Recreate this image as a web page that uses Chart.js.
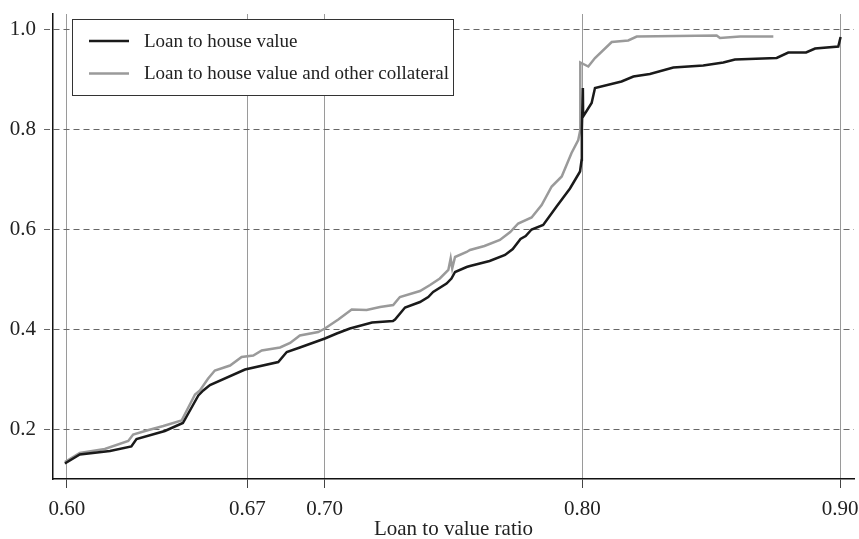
<!DOCTYPE html>
<html lang="en">
<head>
  <meta charset="UTF-8" />
  <title>Loan to value ratio</title>
  <style>
    * { margin: 0; padding: 0; box-sizing: border-box; }
    body { background: #ffffff; }
    #ltvChart { display: block; }
  </style>
</head>
<body>
  <canvas id="ltvChart" width="859" height="539"></canvas>
  <script src="https://cdn.jsdelivr.net/npm/chart.js"></script>
  <script>
    // Loan to house value (black)
    const houseX = [0.5992, 0.6050, 0.6167, 0.6250, 0.6270, 0.6380, 0.6450, 0.6510, 0.6529, 0.6555,
                    0.6691, 0.6820, 0.6853, 0.6904, 0.7001, 0.7047, 0.7098, 0.7184, 0.7265, 0.7273,
                    0.7312, 0.7370, 0.7402, 0.7421, 0.7473, 0.7492, 0.7506, 0.7551, 0.7564, 0.7640,
                    0.7700, 0.7730, 0.7760, 0.7780, 0.7803, 0.7848, 0.7900, 0.7952, 0.7991, 0.7997,
                    0.7998, 0.8002, 0.8003, 0.8036, 0.8049, 0.8152, 0.8198, 0.8262, 0.8353, 0.8469,
                    0.8547, 0.8592, 0.8754, 0.8799, 0.8868, 0.8903, 0.8993, 0.9002];
    const houseY = [0.131, 0.149, 0.156, 0.165, 0.180, 0.196, 0.212, 0.267, 0.277, 0.288,
                    0.319, 0.334, 0.354, 0.363, 0.381, 0.391, 0.401, 0.413, 0.416, 0.419,
                    0.443, 0.454, 0.464, 0.474, 0.491, 0.501, 0.514, 0.524, 0.526, 0.536,
                    0.548, 0.560, 0.580, 0.586, 0.599, 0.608, 0.645, 0.681, 0.715, 0.738,
                    0.798, 0.882, 0.825, 0.852, 0.882, 0.895, 0.905, 0.910, 0.923, 0.927,
                    0.933, 0.939, 0.942, 0.953, 0.953, 0.961, 0.965, 0.984];

    // Loan to house value and other collateral (grey)
    const collatX = [0.5992, 0.6050, 0.6147, 0.6238, 0.6257, 0.6310, 0.6374, 0.6445, 0.6497, 0.6516,
                     0.6548, 0.6574, 0.6633, 0.6678, 0.6723, 0.6756, 0.6827, 0.6866, 0.6904, 0.6975,
                     0.7001, 0.7053, 0.7105, 0.7163, 0.7215, 0.7266, 0.7292, 0.7370, 0.7409, 0.7447,
                     0.7480, 0.7489, 0.7495, 0.7506, 0.7551, 0.7564, 0.7620, 0.7680, 0.7720, 0.7751,
                     0.7803, 0.7842, 0.7881, 0.7920, 0.7958, 0.7984, 0.7992, 0.7992, 0.8023, 0.8049,
                     0.8114, 0.8178, 0.8211, 0.8521, 0.8534, 0.8612, 0.8741];
    const collatY = [0.134, 0.152, 0.160, 0.176, 0.189, 0.197, 0.206, 0.217, 0.269, 0.277,
                     0.301, 0.317, 0.327, 0.344, 0.347, 0.357, 0.363, 0.372, 0.387, 0.394,
                     0.401, 0.419, 0.439, 0.438, 0.444, 0.448, 0.464, 0.476, 0.488, 0.501,
                     0.518, 0.541, 0.521, 0.544, 0.554, 0.558, 0.566, 0.578, 0.594, 0.611,
                     0.623, 0.648, 0.685, 0.705, 0.752, 0.778, 0.798, 0.933, 0.925, 0.942,
                     0.974, 0.977, 0.985, 0.987, 0.982, 0.985, 0.985];

    const xTicks = [0.60, 0.67, 0.70, 0.80, 0.90];
    const yTicks = [0.2, 0.4, 0.6, 0.8, 1.0];

    const seriesLabels = ["Loan to house value", "Loan to house value and other collateral"];
    const xTitle = "Loan to value ratio";

    const serif = "'Liberation Serif', 'DejaVu Serif', serif";

    function toPoints(xs, ys) {
      return xs.map((x, i) => ({ x: x, y: ys[i] }));
    }

    // keep tick labels from pushing the plot area inwards
    function noLabelPadding(scale) {
      scale.paddingTop = 0;
      scale.paddingBottom = 0;
      scale.paddingLeft = 0;
      scale.paddingRight = 0;
    }

    // legend box drawn inside the plot, top left
    const boxLegend = {
      id: "boxLegend",
      afterDraw(chart) {
        const ctx = chart.ctx;
        const datasets = chart.data.datasets;
        ctx.save();
        ctx.fillStyle = "#ffffff";
        ctx.fillRect(72.5, 19.5, 381, 76);
        ctx.strokeStyle = "#333333";
        ctx.lineWidth = 1;
        ctx.strokeRect(72.5, 19.5, 381, 76);
        ctx.font = "19px " + serif;
        ctx.textBaseline = "middle";
        ctx.textAlign = "left";
        datasets.forEach((ds, i) => {
          const y = 41 + i * 32.5;
          ctx.strokeStyle = ds.borderColor;
          ctx.lineWidth = ds.borderWidth;
          ctx.beginPath();
          ctx.moveTo(89, y);
          ctx.lineTo(129, y);
          ctx.stroke();
          ctx.fillStyle = "#222222";
          ctx.fillText(ds.label, 144, y + 1);
        });
        ctx.restore();
      }
    };

    new Chart(document.getElementById("ltvChart"), {
      type: "line",
      data: {
        datasets: [
          {
            label: seriesLabels[0],
            data: toPoints(houseX, houseY),
            borderColor: "#1a1a1a",
            borderWidth: 2.5,
            pointRadius: 0,
            tension: 0,
            fill: false
          },
          {
            label: seriesLabels[1],
            data: toPoints(collatX, collatY),
            borderColor: "#9a9a9a",
            borderWidth: 2.5,
            pointRadius: 0,
            tension: 0,
            fill: false
          }
        ]
      },
      options: {
        responsive: false,
        devicePixelRatio: 1,
        animation: false,
        events: [],
        layout: { padding: { top: 14, right: 5, left: 0, bottom: 0 } },
        scales: {
          x: {
            type: "linear",
            min: 0.5946,
            max: 0.9054,
            afterBuildTicks: scale => { scale.ticks = xTicks.map(v => ({ value: v })); },
            afterFit: scale => { scale.height = 60; noLabelPadding(scale); },
            ticks: {
              autoSkip: false,
              maxRotation: 0,
              padding: 9,
              color: "#222222",
              font: { family: serif, size: 21 },
              callback: v => Number(v).toFixed(2)
            },
            grid: {
              color: "#9a9a9a",
              lineWidth: 1,
              tickLength: 9,
              tickColor: "#444444"
            },
            border: { color: "#111111", width: 1.5 },
            title: {
              display: true,
              text: xTitle,
              color: "#222222",
              font: { family: serif, size: 21 },
              padding: { top: 0, bottom: -3 }
            }
          },
          y: {
            min: 0.1,
            max: 1.03,
            afterBuildTicks: scale => { scale.ticks = yTicks.map(v => ({ value: v })); },
            afterFit: scale => { scale.width = 53; noLabelPadding(scale); },
            ticks: {
              padding: 8,
              color: "#222222",
              font: { family: serif, size: 21 },
              callback: v => Number(v).toFixed(1)
            },
            grid: {
              color: "#666666",
              lineWidth: 1,
              tickLength: 9,
              tickBorderDash: [6, 4]
            },
            border: { color: "#111111", width: 1.5, dash: [6, 4] }
          }
        },
        plugins: {
          legend: { display: false },
          tooltip: { enabled: false }
        }
      },
      plugins: [boxLegend]
    });
  </script>
</body>
</html>
